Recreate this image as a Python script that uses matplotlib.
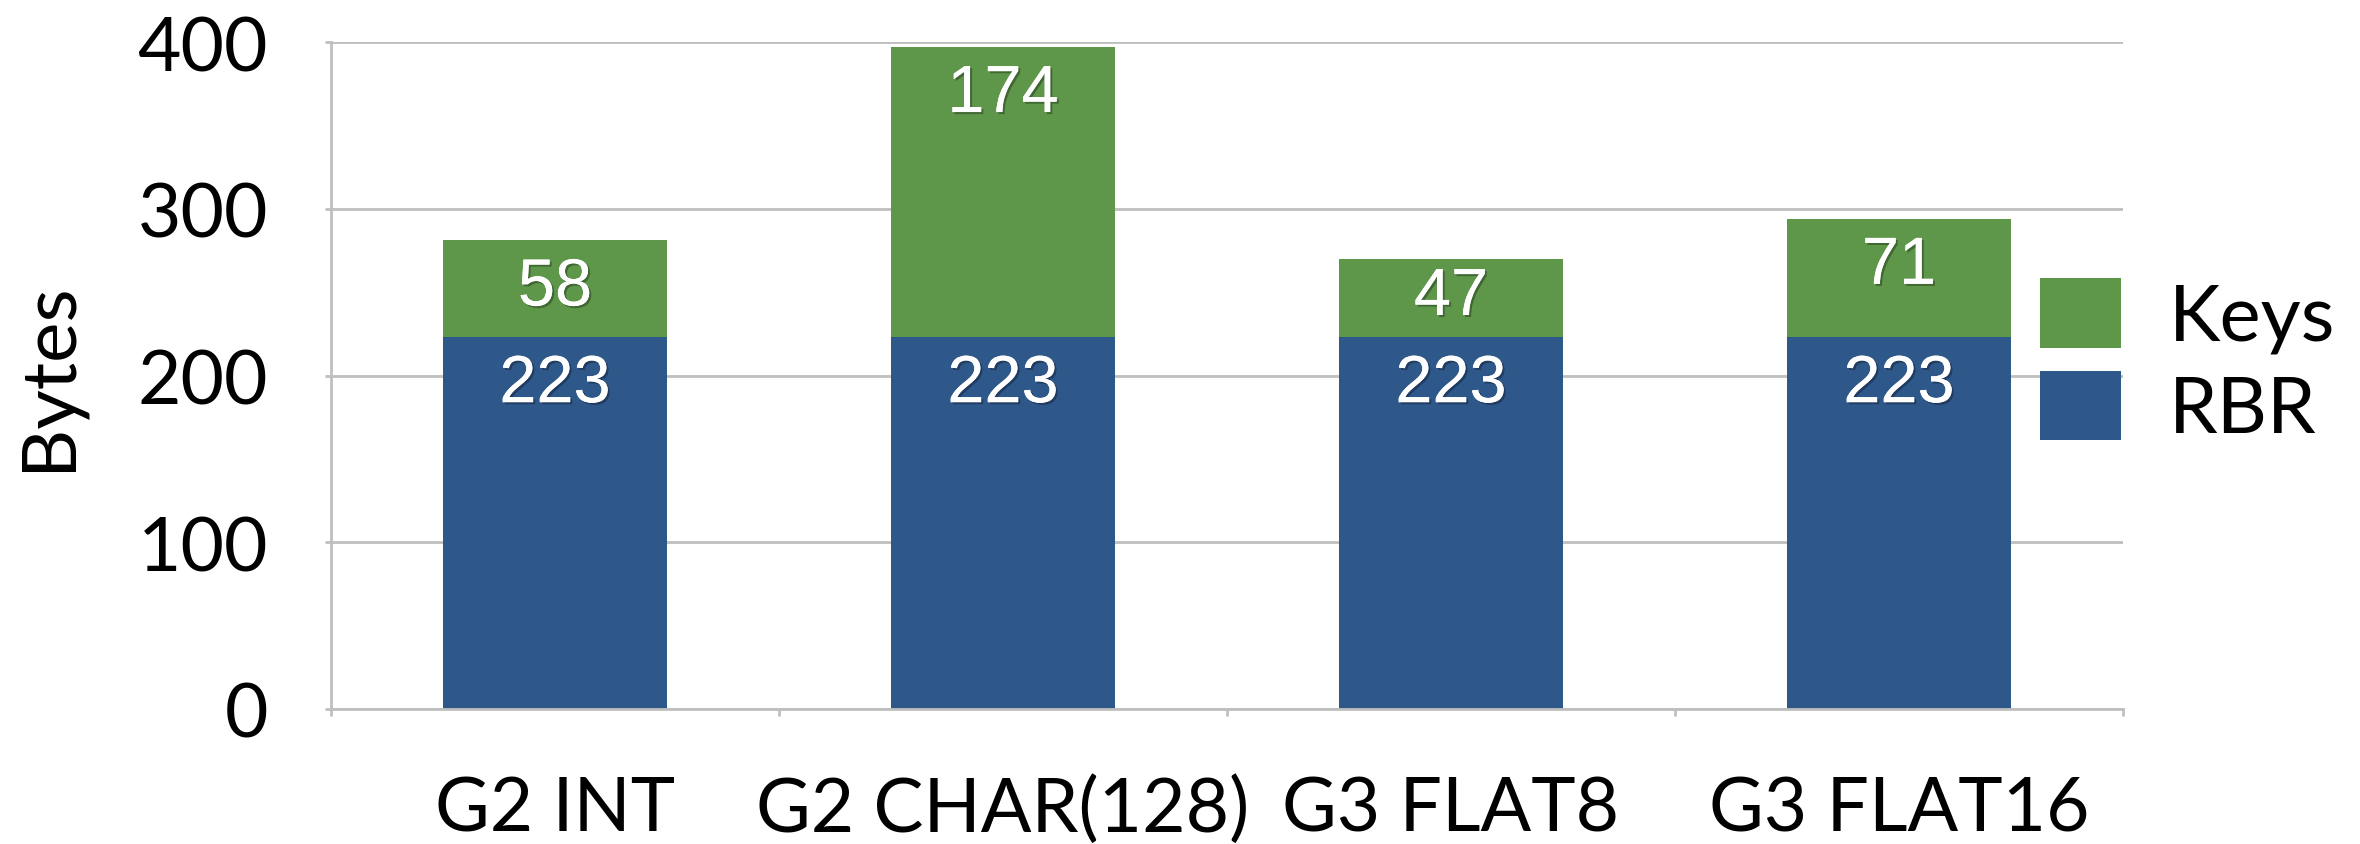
import matplotlib
matplotlib.use("Agg")
import matplotlib.pyplot as plt
import matplotlib.patheffects as pe
import numpy as np

categories = ["G2 INT", "G2 CHAR(128)", "G3 FLAT8", "G3 FLAT16"]
rbr = [223, 223, 223, 223]
keys = [58, 174, 47, 71]
yticks = [0, 100, 200, 300, 400]

blue = "#2E578A"
green = "#5E964A"
grid_gray = "#BFBFBF"

fig = plt.figure(figsize=(23.6, 8.45), dpi=100)
ax = fig.add_axes([331 / 2360, 1 - 710 / 845, 1792 / 2360, 667 / 845])

x = np.arange(len(categories))
ax.bar(x, rbr, width=0.5, color=blue, label="RBR", zorder=2)
ax.bar(x, keys, width=0.5, bottom=rbr, color=green, label="Keys", zorder=2)

# value labels, white with a soft shadow
shadow = [pe.withSimplePatchShadow(offset=(1.5, -1.5), shadow_rgbFace="black", alpha=0.3),
          pe.Normal()]
off = 28.8
for i in range(len(categories)):
    for bottom, h in [(0, rbr[i]), (rbr[i], keys[i])]:
        top = bottom + h
        y = max(top - off, bottom + h / 2)
        ax.text(x[i], y, str(h), ha="center", va="center", color="white",
                fontsize=48, family="Liberation Sans", zorder=3, path_effects=shadow)

ax.set_xlim(-0.5, len(categories) - 0.5)
ax.set_ylim(0, 400)
ax.set_yticks(yticks)
ax.set_yticklabels([str(v) for v in yticks], family="Lato", fontsize=54)
ax.set_xticks(x)
ax.set_xticklabels(categories, family="Lato", fontsize=54)
ax.set_xticks(np.arange(-0.5, len(categories), 1.0), minor=True)

ax.tick_params(axis="x", which="major", length=0, pad=47)
ax.tick_params(axis="x", which="minor", length=5, width=2, color=grid_gray)
ax.tick_params(axis="y", length=4.3, width=2, color=grid_gray, pad=41)

ax.grid(axis="y", color=grid_gray, linewidth=2, zorder=0)
ax.set_axisbelow(True)
for s in ["top", "right"]:
    ax.spines[s].set_visible(False)
for s in ["left", "bottom"]:
    ax.spines[s].set_color(grid_gray)
    ax.spines[s].set_linewidth(2)

fig.text(49 / 2360, 1 - 376 / 845, "Bytes", rotation=90, ha="center", va="center",
         family="Lato", fontsize=55)

handles, labels = ax.get_legend_handles_labels()
ax.legend(handles[::-1], labels[::-1], loc="upper left",
          bbox_to_anchor=(2040 / 2360, 1 - 279 / 845), bbox_transform=fig.transFigure,
          frameon=False, borderpad=0, borderaxespad=0, handlelength=1.04,
          handleheight=1.0, handletextpad=0.62, labelspacing=0.22,
          prop={"family": "Lato", "size": 56})

fig.savefig("out.png", dpi=100)
